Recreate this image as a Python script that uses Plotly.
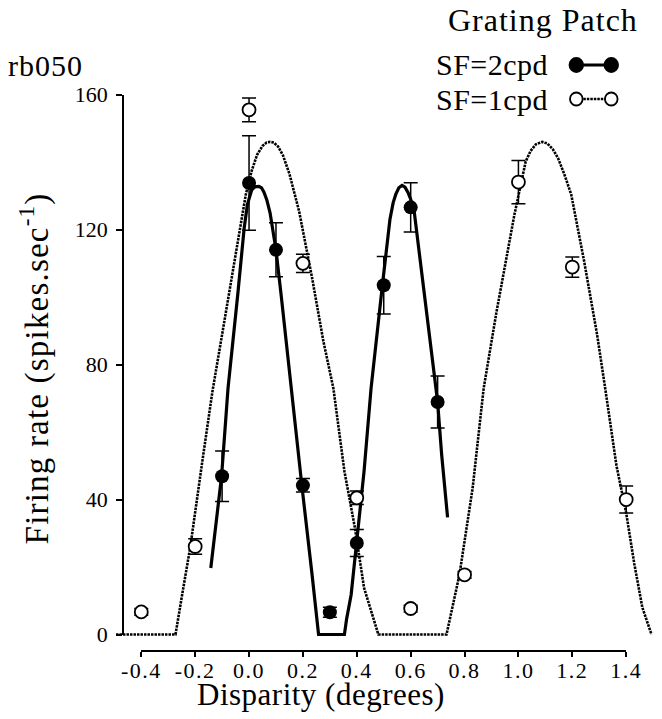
import plotly.graph_objects as go

# ---------------- data ----------------
# SF = 2 cpd (filled circles)
sf2_x = [-0.1, 0.0, 0.1, 0.2, 0.3, 0.4, 0.5, 0.6, 0.7]
sf2_y = [46.9, 133.8, 114.0, 44.2, 6.6, 27.1, 103.5, 126.6, 68.9]
sf2_err = [7.5, 14.0, 8.0, 2.0, 1.5, 4.0, 8.5, 7.3, 7.7]

# SF = 1 cpd (open circles)
sf1_x = [-0.4, -0.2, 0.0, 0.2, 0.4, 0.6, 0.8, 1.0, 1.2, 1.4]
sf1_y = [6.7, 26.1, 155.5, 110.0, 40.5, 7.7, 17.7, 134.1, 108.9, 40.0]
sf1_err = [1.0, 2.3, 3.5, 2.7, 2.0, 1.0, 1.0, 6.4, 3.0, 4.0]

# fitted curve, SF = 2 cpd (solid)
fit2_x = [-0.142, -0.122, -0.102, -0.078, -0.060, -0.042, -0.018, -0.006, 0.010,
          0.022, 0.036, 0.046, 0.055, 0.066, 0.078, 0.100, 0.120, 0.156, 0.196,
          0.234, 0.250, 0.258, 0.354, 0.362, 0.379, 0.399, 0.427, 0.453, 0.475,
          0.495, 0.523, 0.535, 0.545, 0.556, 0.568, 0.579, 0.590, 0.600, 0.613,
          0.643, 0.673, 0.691, 0.700, 0.715, 0.737]
fit2_y = [19.7, 33.0, 46.9, 73.0, 85.9, 100.7, 120.5, 127.5, 131.8,
          132.7, 132.8, 132.4, 131.2, 128.8, 125.0, 114.0, 100.0, 73.0, 44.2,
          17.7, 5.5, 0.0, 0.0, 4.5, 11.8, 27.0, 48.4, 73.0, 90.0,
          103.5, 123.0, 128.0, 130.5, 132.4, 133.1, 132.6, 131.0, 129.0, 125.4,
          105.7, 85.9, 73.0, 68.9, 53.3, 34.7]

# fitted curve, SF = 1 cpd (dotted)
fit1_x = [-0.494, -0.273, -0.250, -0.218, -0.174, -0.136, -0.096, -0.054, -0.012,
          0.010, 0.030, 0.050, 0.065, 0.078, 0.092, 0.108, 0.126, 0.150, 0.186,
          0.234, 0.276, 0.313, 0.354, 0.393, 0.427, 0.480, 0.733, 0.781, 0.830,
          0.871, 0.919, 0.985, 1.027, 1.045, 1.065, 1.088, 1.108, 1.128, 1.147,
          1.170, 1.196, 1.244, 1.292, 1.322, 1.364, 1.400, 1.430, 1.460, 1.494]
fit1_y = [0.0, 0.0, 11.0, 26.0, 51.0, 72.0, 90.8, 110.6, 130.4,
          137.5, 142.2, 144.8, 145.8, 146.0, 145.8, 144.6, 142.0, 136.5, 125.4,
          105.7, 86.9, 73.0, 48.4, 31.6, 13.8, 0.0, 0.0, 17.7, 43.4,
          73.0, 95.8, 124.4, 140.2, 143.3, 145.3, 146.0, 145.5, 143.8, 141.2,
          136.5, 130.4, 110.6, 88.9, 73.0, 50.0, 36.0, 21.0, 8.0, 0.0]

x_ticks = [-0.4, -0.2, 0.0, 0.2, 0.4, 0.6, 0.8, 1.0, 1.2, 1.4]
x_tick_labels = ["-0.4", "-0.2", "0.0", "0.2", "0.4", "0.6", "0.8", "1.0", "1.2", "1.4"]
y_ticks = [0, 40, 80, 120, 160]
y_tick_labels = ["0", "40", "80", "120", "160"]

# ---------------- layout geometry ----------------
W, H = 662, 719
L, R, T, B = 108, 0, 80, 76
PW, PH = W - L - R, H - T - B
X0_PX, X_SCALE = 245.0, 277.4      # pixel of x=0, pixels per degree
Y0_PX, Y_SCALE = 626.5, 3.374      # pixel of y=0, pixels per spike/s


def fx(px):
    return (px - L) / PW


def fy(py):
    return (H - B - py) / PH


def spaced(t, sp):
    return f'<span style="letter-spacing:{sp}px">{t}</span>' if sp else t


FONT = "Liberation Serif"
DOT = "2.5px,1px"

fig = go.Figure()

fig.add_trace(go.Scatter(
    x=fit1_x, y=fit1_y, mode="lines",
    line=dict(color="black", width=2.6, dash=DOT),
    showlegend=False, hoverinfo="skip"))
fig.add_trace(go.Scatter(
    x=fit2_x, y=fit2_y, mode="lines",
    line=dict(color="black", width=3.2),
    showlegend=False, hoverinfo="skip"))
fig.add_trace(go.Scatter(
    x=sf1_x, y=sf1_y, mode="markers",
    marker=dict(symbol="circle", size=13, color="white",
                line=dict(color="black", width=1.8)),
    error_y=dict(type="data", array=sf1_err, visible=True,
                 color="black", thickness=1.5, width=7),
    showlegend=False))
fig.add_trace(go.Scatter(
    x=sf2_x, y=sf2_y, mode="markers",
    marker=dict(symbol="circle", size=14, color="black"),
    error_y=dict(type="data", array=sf2_err, visible=True,
                 color="black", thickness=1.5, width=7),
    showlegend=False))
# invisible trace that carries the detached display axes
fig.add_trace(go.Scatter(x=[None], y=[None], xaxis="x2", yaxis="y2",
                         showlegend=False, hoverinfo="skip"))

x_range = [(L - X0_PX) / X_SCALE, (W - R - X0_PX) / X_SCALE]
y_range = [(Y0_PX - (H - B)) / Y_SCALE, (Y0_PX - T) / Y_SCALE]

fig.update_layout(
    width=W, height=H,
    margin=dict(l=L, r=R, t=T, b=B, pad=0),
    paper_bgcolor="white", plot_bgcolor="rgba(0,0,0,0)",
    font=dict(family=FONT, color="black"),
    xaxis=dict(range=x_range, visible=False, domain=[0, 1]),
    yaxis=dict(range=y_range, visible=False, domain=[0, 1]),
    xaxis2=dict(
        range=[x_ticks[0], x_ticks[-1]],
        domain=[fx(X0_PX + x_ticks[0] * X_SCALE), fx(X0_PX + x_ticks[-1] * X_SCALE)],
        anchor="free", position=0,
        showline=True, linecolor="black", linewidth=1.5,
        ticks="outside", ticklen=5, tickwidth=1.5, tickcolor="black",
        tickvals=x_ticks, ticktext=[spaced(t, 1.5) for t in x_tick_labels],
        tickfont=dict(family=FONT, size=22, color="black"),
        ticklabelstandoff=-5,
        showgrid=False, zeroline=False,
    ),
    yaxis2=dict(
        range=[y_ticks[0], y_ticks[-1]],
        domain=[fy(Y0_PX - y_ticks[0] * Y_SCALE), fy(Y0_PX - y_ticks[-1] * Y_SCALE)],
        anchor="free", position=fx(115),
        showline=True, linecolor="black", linewidth=1.5,
        ticks="outside", ticklen=6, tickwidth=1.5, tickcolor="black",
        tickvals=y_ticks, ticktext=y_tick_labels,
        tickfont=dict(family=FONT, size=22, color="black"),
        ticklabelstandoff=4,
        showgrid=False, zeroline=False,
    ),
)

ann = []


def text(t, px, py, size, xanchor="left", angle=0, sp=0):
    ann.append(dict(
        text=spaced(t, sp), x=fx(px), y=fy(py), xref="paper", yref="paper",
        xanchor=xanchor, yanchor="middle", showarrow=False, borderpad=0,
        textangle=angle, font=dict(family=FONT, size=size, color="black")))


text("rb050", -4, 58, 30, sp=1)
text("Grating Patch", 449, 12, 32, sp=1)
text("SF=2cpd", 436, 57, 30, sp=0.5)
text("SF=1cpd", 436, 91, 30, sp=0.5)
text("Disparity (degrees)", 319, 686, 31, xanchor="center", sp=0.5)
text("Firing rate (spikes.sec<sup>-1</sup>)", 24, 360, 33, xanchor="center", angle=-90, sp=1.2)
fig.update_layout(annotations=ann)

# legend glyphs (drawn at the right of the legend text)
shapes = []
for py, filled in [(57, True), (91, False)]:
    shapes.append(dict(type="line", xref="paper", yref="paper",
                       x0=fx(582), x1=fx(618), y0=fy(py), y1=fy(py),
                       line=dict(color="black",
                                 width=3 if filled else 2.4,
                                 dash="solid" if filled else DOT)))
    for cx in (582, 618):
        r = 7 if filled else 6.5
        shapes.append(dict(type="circle", xref="paper", yref="paper",
                           x0=fx(cx - r), x1=fx(cx + r), y0=fy(py - r), y1=fy(py + r),
                           fillcolor="black" if filled else "white",
                           line=dict(color="black", width=1.8)))
fig.update_layout(shapes=shapes)

fig.write_html("out.html")
